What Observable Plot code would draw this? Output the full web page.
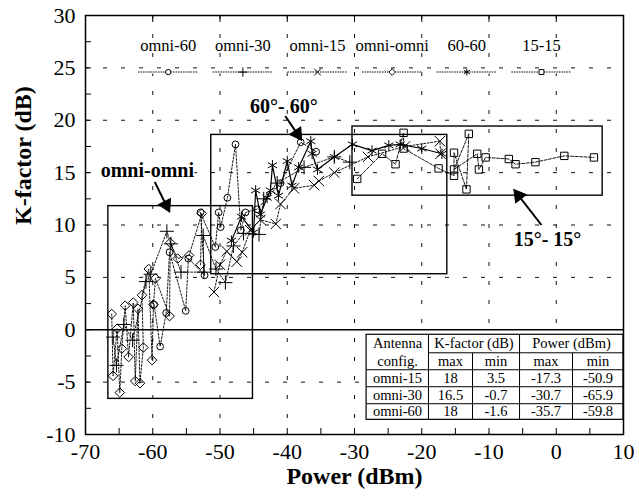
<!DOCTYPE html>
<html><head><meta charset="utf-8">
<script src="https://cdn.jsdelivr.net/npm/d3@7"></script>
<script src="https://cdn.jsdelivr.net/npm/@observablehq/plot@0.6"></script>
<style>body{margin:0;background:#fff}svg{display:block}</style>
</head><body><div id="chart"></div>
<script>
// ---------- data (power dBm, K-factor dB) ----------
const seriesNames = ["omni-60", "omni-30", "omni-15", "omni-omni", "60-60", "15-15"];
const omni60 = [[-59.8,2.4],[-58.9,-1.6],[-58.0,1.6],[-57.5,7.4],[-55.1,1.8],[-54.7,6.8],[-52.3,5.2],[-52.9,11.2],[-50.7,7.9],[-50.2,11.2],[-49.9,9.8],[-48.9,12.6],[-47.7,17.7],[-46.9,9.5],[-46.2,11.2],[-44.5,11.5],[-41.0,14.0],[-38.0,17.9],[-35.7,17.0]];
const omni30 = [[-65.9,-0.7],[-65.4,-3.4],[-64.3,0.5],[-63.0,-1.0],[-61.0,4.6],[-60.3,5.3],[-57.9,9.4],[-57.3,8.2],[-55.8,5.5],[-52.4,5.5],[-52.5,9.0],[-50.6,5.8],[-49.2,4.5],[-48.0,8.0],[-46.5,9.2],[-44.2,9.1],[-43.5,12.5],[-41.5,14.0],[-37.5,15.5],[-33.0,16.5],[-30.7,16.0]];
const omni15 = [[-50.9,3.6],[-50.0,6.2],[-49.0,7.5],[-47.5,6.5],[-46.7,7.4],[-45.5,9.5],[-44.0,10.5],[-41.7,10.1],[-41.0,12.0],[-39.0,13.5],[-36.0,13.8],[-35.3,14.2],[-33.0,15.0],[-28.0,16.5],[-22.5,17.5],[-17.3,18.0],[-17.2,16.8]];
const omniOmni = [[-66.1,1.5],[-65.9,-4.4],[-65.3,0.1],[-64.9,-6.0],[-64.6,-1.8],[-64.1,2.3],[-63.6,-2.6],[-62.9,2.6],[-62.6,-4.9],[-62.2,2.0],[-61.9,-5.1],[-61.4,-1.7],[-61.6,3.3],[-60.6,5.8],[-60.1,-2.9],[-59.9,2.4],[-59.6,4.9],[-57.5,1.3],[-57.4,8.3],[-56.3,6.8],[-54.6,7.1],[-52.7,11.1],[-52.9,6.2]];
const s6060 = [[-48.3,8.5],[-46.8,10.8],[-45.0,9.3],[-44.7,13.3],[-44.0,11.0],[-43.0,12.6],[-42.5,13.3],[-42.2,15.7],[-41.3,12.8],[-40.0,16.1],[-39.3,13.75],[-38.3,15.5],[-36.5,18.0],[-36.3,16.8],[-35.5,15.3],[-33.0,16.5],[-30.3,17.7],[-27.4,17.1],[-24.9,17.6],[-23.2,17.7],[-20.0,17.3],[-17.0,16.8]];
const s1515 = [[-29.6,14.4],[-25.9,16.8],[-23.9,15.8],[-22.7,18.8],[-22.7,17.3],[-17.5,15.4],[-15.2,14.7],[-15.2,16.9],[-13.35,13.4],[-13.0,18.7],[-15.2,15.3],[-11.75,16.8],[-11.5,15.3],[-10.5,16.45],[-7.05,16.3],[-6.05,15.8],[-3.1,16.0],[1.2,16.6],[5.6,16.45]];

// ---------- ticks ----------
const xTicks = [-70, -60, -50, -40, -30, -20, -10, 0, 10];
const yTicks = [-10, -5, 0, 5, 10, 15, 20, 25, 30];
const xGrid = [-60, -50, -40, -30, -20, -10, 0];
const yGrid = [-5, 5, 10, 15, 20, 25];

// ---------- table ----------
const tableConfigs = ["omni-15", "omni-30", "omni-60"];
const kMax = ["18", "16.5", "18"];
const kMin = ["3.5", "-0.7", "-1.6"];
const pMax = ["-17.3", "-30.7", "-35.7"];
const pMin = ["-50.9", "-65.9", "-59.8"];

// ---------- annotation regions ----------
const regionNames = ["omni-omni", "60-60", "15-15"];
const regionPower = [[-66.6, -45.1], [-51.3, -16.2], [-30.3, 6.9]];
const regionK = [[-6.6, 11.8], [5.3, 18.6], [12.8, 19.4]];
const regionLabels = ["omni-omni", "60°- 60°", "15°- 15°"];

// ---------- layout ----------
const W = 639, H = 503, ML = 85, MR = 16, MT = 15, MB = 69;
const xDomain = [-70, 10], yDomain = [-10, 30];
const kx = (W - ML - MR) / (xDomain[1] - xDomain[0]);
const ky = (H - MT - MB) / (yDomain[1] - yDomain[0]);
const labelPos = [[-60.8, 15.2], [-40.5, 21.3], [-1.3, 8.6]];
const arrowPos = [[-59.7, 14.1, -58.0, 11.9], [-40.3, 20.4, -38.5, 18.7], [-2.2, 10.0, -5.6, 12.8]];
const colEdges = [-28.2, -19.0, -12.45, -5.46, 2.42, 10];
const rowEdges = [-0.48, -2.2, -3.82, -5.44, -7.06, -8.6];

const styles = [
  {data: omni60, symbol: "circle", r: 3.4, dash: "2,1.6"},
  {data: omni30, symbol: "plus", r: 4.6, dash: "2,1.6"},
  {data: omni15, symbol: "times", r: 4.8, dash: "2,1.6"},
  {data: omniOmni, symbol: "diamond2", r: 4.3, dash: "2,1.6"},
  {data: s6060, symbol: "asterisk", r: 5, dash: null},
  {data: s1515, symbol: "square2", r: 4.7, dash: "3,1.5"}
];

const serif = "Liberation Serif, Times New Roman, serif";
const fmt = d => String(d);

const boxes = regionNames.map((n, i) => ({x1: regionPower[i][0], x2: regionPower[i][1], y1: regionK[i][0], y2: regionK[i][1]}));
const annot = regionLabels.map((t, i) => ({text: t, x: labelPos[i][0], y: labelPos[i][1]}));
const arrows = arrowPos.map(a => {
  const dxs = (a[2] - a[0]) * kx, dys = -(a[3] - a[1]) * ky;
  return {x1: a[0], y1: a[1], x2: a[2], y2: a[3], rot: Math.atan2(dxs, -dys) * 180 / Math.PI};
});

const legend = seriesNames.map((n, i) => ({name: n, cx: -57.7 + i * 11.1, sym: styles[i].symbol, r: styles[i].r}));
const legendY = 24.6, legendTextY = 27.1, legendHalf = 4.4;

// table cells
const mid = (a, b) => (a + b) / 2;
const cells = [];
cells.push({t: "Antenna", x: mid(colEdges[0], colEdges[1]), y: mid(rowEdges[0], rowEdges[1])});
cells.push({t: "K-factor (dB)", x: mid(colEdges[1], colEdges[3]), y: mid(rowEdges[0], rowEdges[1])});
cells.push({t: "Power (dBm)", x: mid(colEdges[3], colEdges[5]), y: mid(rowEdges[0], rowEdges[1])});
["config.", "max", "min", "max", "min"].forEach((t, j) => cells.push({t, x: mid(colEdges[j], colEdges[j + 1]), y: mid(rowEdges[1], rowEdges[2])}));
tableConfigs.forEach((c, i) => {
  [c, kMax[i], kMin[i], pMax[i], pMin[i]].forEach((t, j) => cells.push({t, x: mid(colEdges[j], colEdges[j + 1]), y: mid(rowEdges[i + 2], rowEdges[i + 3])}));
});
const tTop = rowEdges[0], tBot = rowEdges[5];
const tLines = [
  {x1: colEdges[1], x2: colEdges[5], y1: rowEdges[1], y2: rowEdges[1]},
  ...[2, 3, 4].map(k => ({x1: colEdges[0], x2: colEdges[5], y1: rowEdges[k], y2: rowEdges[k]})),
  {x1: colEdges[1], x2: colEdges[1], y1: tTop, y2: tBot},
  {x1: colEdges[2], x2: colEdges[2], y1: rowEdges[1], y2: tBot},
  {x1: colEdges[3], x2: colEdges[3], y1: tTop, y2: tBot},
  {x1: colEdges[4], x2: colEdges[4], y1: rowEdges[1], y2: tBot}
];

const px = d => d[0], py = d => d[1];

const chart = Plot.plot({
  width: W, height: H,
  marginLeft: ML, marginRight: MR, marginTop: MT, marginBottom: MB,
  x: {domain: xDomain},
  y: {domain: yDomain},
  style: {fontFamily: serif, background: "#fff", color: "#000"},
  marks: [
    Plot.ruleX(xGrid, {stroke: "#111", strokeWidth: 1, strokeDasharray: "4,15"}),
    Plot.ruleY(yGrid, {stroke: "#111", strokeWidth: 1, strokeDasharray: "4,14"}),
    Plot.ruleY([0], {stroke: "#000", strokeWidth: 1.3}),
    Plot.rect(boxes, {x1: "x1", x2: "x2", y1: "y1", y2: "y2", fill: "none", stroke: "#000", strokeWidth: 1.4}),
    ...styles.map(s => Plot.line(s.data, {x: px, y: py, stroke: "#000", strokeWidth: s.dash ? 0.9 : 1.2, strokeDasharray: s.dash})),
    ...styles.map(s => Plot.dot(s.data, {x: px, y: py, symbol: s.symbol, r: s.r, stroke: "#000", strokeWidth: 1, fill: "none"})),
    // legend
    Plot.ruleY(legend, {y: legendY, x1: d => d.cx - legendHalf, x2: d => d.cx + legendHalf, stroke: "#fff", strokeWidth: 3}),
    Plot.ruleY(legend, {y: legendY, x1: d => d.cx - legendHalf, x2: d => d.cx + legendHalf, stroke: "#000", strokeWidth: 1.1, strokeDasharray: "1.5,1"}),
    Plot.dot(legend, {x: "cx", y: legendY, symbol: "sym", r: "r", stroke: "#000", fill: "white", strokeWidth: 1}),
    Plot.text(legend, {x: "cx", y: legendTextY, text: "name", fontSize: 16.5, fill: "#000"}),
    // annotations
    Plot.link(arrows, {x1: "x1", y1: "y1", x2: "x2", y2: "y2", stroke: "#000", strokeWidth: 2}),
    Plot.dot(arrows, {x: "x2", y: "y2", symbol: "triangle", r: 5, rotate: "rot", fill: "#000", stroke: "#000", strokeWidth: 1}),
    Plot.text(annot, {x: "x", y: "y", text: "text", fontSize: 20, fontWeight: "bold", fill: "#000", stroke: "white", strokeWidth: 3, paintOrder: "stroke"}),
    // table
    Plot.rect([0], {x1: colEdges[0], x2: colEdges[5], y1: tBot, y2: tTop, fill: "white", stroke: "#000", strokeWidth: 1.2}),
    Plot.link(tLines, {x1: "x1", x2: "x2", y1: "y1", y2: "y2", stroke: "#000", strokeWidth: 1}),
    Plot.text(cells, {x: "x", y: "y", text: "t", fontSize: 14.5, fill: "#000"}),
    // frame & axes
    Plot.frame({stroke: "#000", strokeWidth: 1.5}),
    Plot.axisX({ticks: xTicks, tickSize: 0, tickPadding: 9, fontSize: 22, tickFormat: fmt, label: null}),
    Plot.axisY({ticks: yTicks, tickSize: 0, tickPadding: 10, fontSize: 22, tickFormat: fmt, label: null}),
    Plot.axisX({ticks: d3.range(-70, 10.01, 5), tickSize: -6, tickFormat: () => "", label: null}),
    Plot.axisX({anchor: "top", ticks: xTicks, tickSize: -6, tickFormat: () => "", label: null}),
    Plot.axisY({ticks: d3.range(-10, 30.01, 2.5), tickSize: -6, tickFormat: () => "", label: null}),
    Plot.text(["Power (dBm)"], {frameAnchor: "bottom", dy: 49, fontSize: 24, fontWeight: "bold", fill: "#000"}),
    Plot.text(["K-factor (dB)"], {frameAnchor: "left", dx: -62, rotate: -90, fontSize: 24, fontWeight: "bold", fill: "#000"})
  ]
});
document.getElementById("chart").appendChild(chart);
</script>
</body></html>
